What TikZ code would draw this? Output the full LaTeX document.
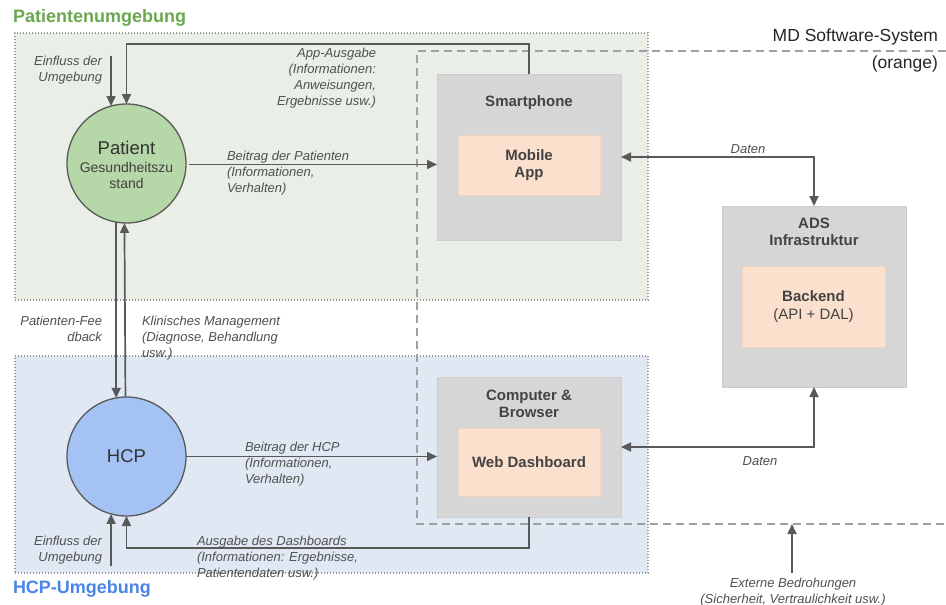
\documentclass[tikz,border=0pt]{standalone}
\usepackage{fontspec}
\setmainfont{Liberation Sans}
\usetikzlibrary{arrows.meta,calc}
\definecolor{envgreen}{RGB}{233,239,230}
\definecolor{envblue}{RGB}{223,232,243}
\definecolor{boxgray}{RGB}{214,214,214}
\definecolor{boxgrayb}{RGB}{204,204,204}
\definecolor{apporange}{RGB}{250,224,205}
\definecolor{apporangeb}{RGB}{238,214,196}
\definecolor{patgreen}{RGB}{182,215,168}
\definecolor{hcpblue}{RGB}{164,194,244}
\definecolor{linegray}{RGB}{89,89,89}
\definecolor{dashgray}{RGB}{160,160,160}
\definecolor{dotgray}{RGB}{150,150,150}
\definecolor{txtgray}{RGB}{80,80,80}
\definecolor{boxtxt}{RGB}{67,67,67}
\definecolor{titlegreen}{RGB}{106,168,79}
\definecolor{titleblue}{RGB}{74,134,232}
\begin{document}
\begin{tikzpicture}[x=1pt,y=-1pt,
  every node/.style={inner sep=0pt, outer sep=0pt},
  envbox/.style={draw=dotgray, line width=1.1pt, dash pattern=on 1pt off 2pt},
  mdline/.style={draw=dashgray, line width=1.5pt, dash pattern=on 8pt off 5pt},
  devbox/.style={draw=boxgrayb, fill=boxgray, line width=0.8pt},
  appbox/.style={draw=apporangeb, fill=apporange, line width=0.8pt, font=\fontsize{15}{17.5}\selectfont\bfseries, text=boxtxt, align=center},
  devtitle/.style={font=\fontsize{15}{17}\selectfont\bfseries, text=boxtxt, align=center},
  actor/.style={circle, draw=linegray, line width=1.3pt, minimum size=119pt},
  lbl/.style={font=\fontsize{13}{16}\selectfont\itshape, text=txtgray},
  arr/.style={draw=linegray, line width=1.7pt, -{Triangle[length=10pt,width=9pt]}},
  darr/.style={draw=linegray, line width=1.7pt, {Triangle[length=10pt,width=9pt]}-{Triangle[length=10pt,width=9pt]}}
]
\useasboundingbox (0,0) rectangle (946,605);
\fill[white] (0,0) rectangle (946,605);

% environments
\node[envbox, fill=envgreen, minimum width=633pt, minimum height=267pt] (patenv) at (331.5,166.5) {};
\node[envbox, fill=envblue, minimum width=633pt, minimum height=217pt] (hcpenv) at (331.5,464.5) {};
\node[anchor=base west, font=\fontsize{18}{20}\selectfont\bfseries, text=titlegreen] (pattitle) at (13,22.7) {Patientenumgebung};
\node[anchor=base west, font=\fontsize{18}{20}\selectfont\bfseries, text=titleblue] (hcptitle) at (13,593) {HCP-Umgebung};

% MD software system boundary
\coordinate (mdtr) at (946,51);
\coordinate (mdtl) at (417,51);
\coordinate (mdbl) at (417,524);
\coordinate (mdbr) at (946,524);
\draw[mdline] (mdtr) -- (mdtl) -- (mdbl) -- (mdbr);
\node[anchor=base east, font=\fontsize{17.5}{20}\selectfont, text=black!85] (mdtitle) at (938,41.7) {MD Software-System};
\node[anchor=base east, font=\fontsize{17.5}{20}\selectfont, text=black!85] (mdsub) at (938,68.3) {(orange)};

% devices
\node[devbox, minimum width=184pt, minimum height=166pt] (phone) at (529,157) {};
\node[devtitle, anchor=base] (phonetitle) at (529,106.5) {Smartphone};
\node[appbox, minimum width=142pt, minimum height=60pt] (mobile) at (529,165) {Mobile\\App};

\node[devbox, minimum width=184pt, minimum height=140pt] (computer) at (529,447) {};
\node[devtitle, anchor=north] (comptitle) at (529,389.6) {Computer \&\\Browser};
\node[appbox, minimum width=142pt, minimum height=68pt] (web) at (529,462) {Web Dashboard};

\node[devbox, minimum width=184pt, minimum height=181pt] (ads) at (814,296.5) {};
\node[devtitle, anchor=north] (adstitle) at (814,217.6) {ADS\\Infrastruktur};
\node[appbox, minimum width=143pt, minimum height=81pt] (backend) at (813.5,306.5) {Backend\\{\mdseries (API + DAL)}};

% actors
\node[actor, fill=patgreen] (patient) at (126.5,163.5) {};
\node[font=\fontsize{18.5}{20}\selectfont, text=black!80, anchor=base] (patname) at (126.5,154.5) {Patient};
\node[font=\fontsize{14}{16}\selectfont, text=black!75, align=center, anchor=north] (patstate) at (126.5,162) {Gesundheitszu\\stand};
\node[actor, fill=hcpblue, font=\fontsize{18.5}{20}\selectfont, text=black!80] (hcp) at (126.5,456.5) {HCP};

% external inputs
\coordinate (einfA) at (111,56);
\coordinate (einfB) at (111,566);
\draw[arr] (einfA) -- (patient.105);
\draw[arr] (einfB) -- (hcp.255);
\node[lbl, align=right, anchor=north east] (einfAlbl) at (102,56.5) {Einfluss der\\Umgebung};
\node[lbl, align=right, anchor=north east] (einfBlbl) at (102,536.5) {Einfluss der\\Umgebung};

% app output
\coordinate (appturn) at (126.5,44);
\draw[arr] (phone.north) |- (appturn) -- (patient.north);
\node[lbl, align=right, anchor=north east] (applbl) at (376,48.5) {App-Ausgabe\\(Informationen:\\Anweisungen,\\Ergebnisse usw.)};

% patient input
\draw[arr] ([xshift=3pt,yshift=-1pt]patient.east) -- ([yshift=-1pt]patient.east -| phone.west);
\node[lbl, align=left, anchor=north west] (patinlbl) at (227,151.5) {Beitrag der Patienten\\(Informationen,\\Verhalten)};

% patient <-> hcp
\draw[arr] (patient.260) -- (hcp.100);
\draw[arr] (hcp.91.5) -- (patient.268.5);
\node[lbl, align=right, anchor=north east] (feedlbl) at (102,316.5) {Patienten-Fee\\dback};
\node[lbl, align=left, anchor=north west] (klinlbl) at (142,316.5) {Klinisches Management\\(Diagnose, Behandlung\\usw.)};

% hcp input
\draw[arr] (hcp.east) -- (hcp.east -| computer.west);
\node[lbl, align=left, anchor=north west] (hcpinlbl) at (245,442.5) {Beitrag der HCP\\(Informationen,\\Verhalten)};

% dashboard output
\coordinate (dashturn) at (126.5,548);
\draw[arr] (computer.south) |- (dashturn) -- (hcp.south);
\node[lbl, align=left, anchor=north west] (dashlbl) at (197,536.5) {Ausgabe des Dashboards\\(Informationen: Ergebnisse,\\Patientendaten usw.)};

% data
\draw[darr] (phone.east) -| (ads.north);
\draw[darr] (computer.east) -| (ads.south);
\node[lbl] (datenA) at (748,149) {Daten};
\node[lbl] (datenB) at (760,461) {Daten};

% threats
\coordinate (threat) at (792,573);
\coordinate (threattip) at (792,524);
\draw[arr] (threat) -- (threattip);
\node[lbl, align=center, anchor=north] (threatlbl) at (793,578.5) {Externe Bedrohungen\\(Sicherheit, Vertraulichkeit usw.)};
\end{tikzpicture}
\end{document}
